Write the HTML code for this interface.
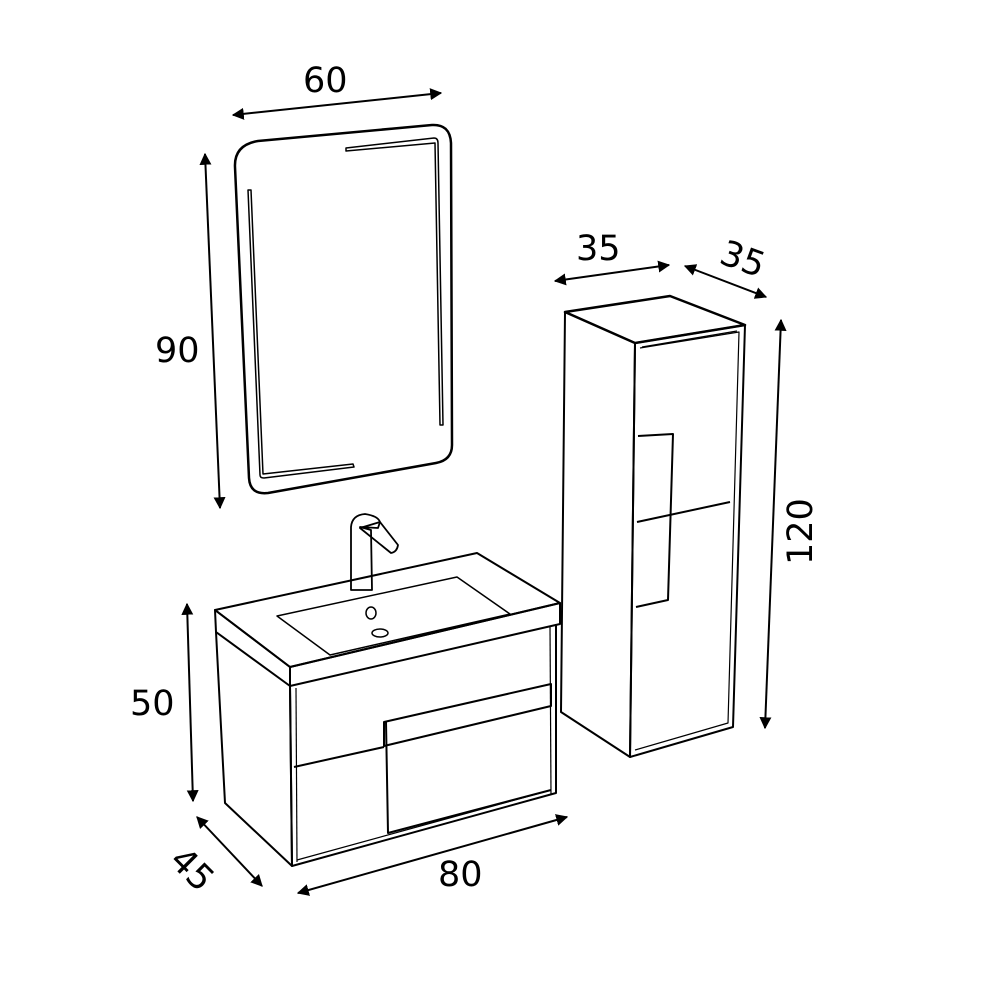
<!DOCTYPE html>
<html><head><meta charset="utf-8"><style>
html,body{margin:0;padding:0;background:#fff;}
svg{display:block}
text{font-family:"DejaVu Sans","Liberation Sans",sans-serif;font-size:35px;fill:#000}
</style></head><body>
<svg width="1000" height="1000" viewBox="0 0 1000 1000" xmlns="http://www.w3.org/2000/svg">
<defs>
<marker id="a" viewBox="0 0 10 10" refX="9" refY="5" markerWidth="6" markerHeight="6" orient="auto-start-reverse"><path d="M0,0 L10,5 L0,10 z" fill="#000"/></marker>
</defs>
<g fill="none" stroke="#000" stroke-width="2" stroke-linejoin="round">
<g stroke-width="2" marker-start="url(#a)" marker-end="url(#a)">
<line x1="233" y1="115" x2="441" y2="93"/>
<line x1="205" y1="154" x2="220" y2="508"/>
<line x1="555" y1="281" x2="669" y2="265"/>
<line x1="685" y1="266" x2="766" y2="297"/>
<line x1="781" y1="320" x2="765" y2="728"/>
<line x1="187" y1="604" x2="193" y2="801"/>
<line x1="197" y1="817" x2="262" y2="886"/>
<line x1="298" y1="893" x2="567" y2="817"/>
</g>
<path d="M258,141 L432,125 Q450,124 451,143 L452,445 Q452,460 436,463 L268,493 Q250,495 249,478 L235,167 Q234,145 258,141 Z" stroke-width="2.5"/>
<path d="M346,148 L434,138 Q438,138 438,143 L443,425 L440,425 L435,143 L346,151 Z" stroke-width="1.5"/>
<path d="M248,190 L251,190 L263,474 L353,464 L354,467 L264,478 Q260,478 260,475 Z" stroke-width="1.5"/>
<path d="M215,610 L477,553 L560,603 L290,667 Z"/>
<path d="M290,667 L560,603 L560,624 L290,686 Z"/>
<path d="M215,610 L290,667 L290,686 L216,632 Z"/>
<path d="M277,616 L457,577 L510,614 L330,655 Z" stroke-width="1.5"/>
<ellipse cx="371" cy="613" rx="5" ry="6" stroke-width="1.5"/>
<ellipse cx="380" cy="633" rx="8" ry="4" stroke-width="1.5"/>
<path d="M351,590 L351,527 Q352,515 365,514 Q378,516 380,522 L378,528 L360,527 L371,530 L372,590 Z" stroke-width="1.8"/>
<path d="M360,528 L380,522 L398,545 Q397,552 391,553 Z" stroke-width="1.8"/>
<path d="M216,632 L225,803 L292,866 L290,686"/>
<path d="M290,686 L292,866 L556,793 L556,624"/>
<path d="M296,688 L297,862" stroke-width="1.2"/>
<path d="M550,626 L551,795" stroke-width="1.2"/>
<path d="M297,860 L551,790" stroke-width="1.2"/>
<path d="M294,767 L384,747"/>
<path d="M384,722 L551,684 L551,706 L384,746 Z"/>
<path d="M386,722 L388,833 L551,790"/>
<path d="M565,312 L670,296 L745,325 L635,343 Z" stroke-width="2.5"/>
<path d="M565,312 L635,343 L630,757 L561,712 Z"/>
<path d="M635,343 L745,325 L733,727 L630,757 Z"/>
<path d="M640,348 L739,332 L728,723 L635,750" stroke-width="1.2"/>
<path d="M642,347 L737,331" stroke-width="1.2"/>
<path d="M638,436 L673,434 L668,600 L636,607"/>
<path d="M637,522 L730,502"/>
</g>
<text x="303" y="92">60</text>
<text x="155" y="362">90</text>
<text x="130" y="715">50</text>
<text x="576" y="260">35</text>
<text x="720" y="270" transform="rotate(20 740 260)">35</text>
<text x="438" y="886">80</text>
<text transform="translate(812,565) rotate(-90)">120</text>
<text transform="translate(168,862) rotate(45)">45</text>
</svg>
</body></html>
